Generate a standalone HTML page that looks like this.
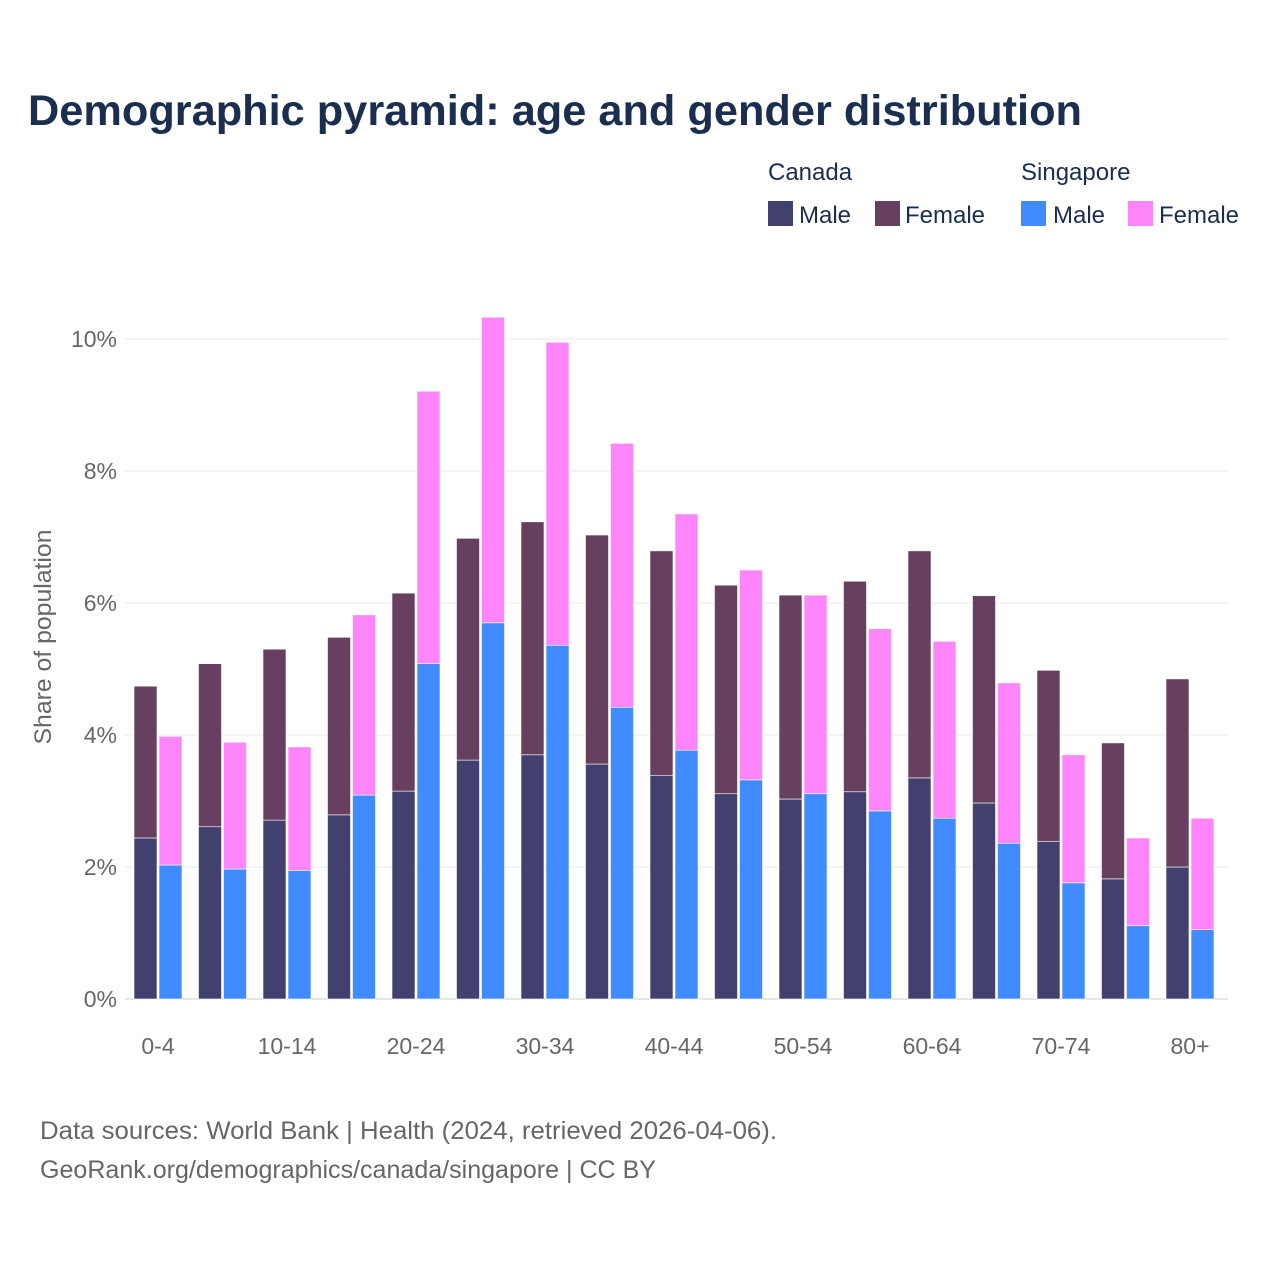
<!DOCTYPE html>
<html><head><meta charset="utf-8"><style>
body{margin:0;background:#fff;}
svg text{font-family:"Liberation Sans",sans-serif;}
</style></head><body>
<svg id="chart" width="1280" height="1280" viewBox="0 0 1280 1280">
<rect width="1280" height="1280" fill="#fff"/>
<text x="28" y="125" font-size="43" font-weight="bold" fill="#1a2e4f" textLength="1054" lengthAdjust="spacingAndGlyphs">Demographic pyramid: age and gender distribution</text>
<g font-size="24" fill="#1a2e4f">
<text x="768" y="180" fill="#1a2e4f">Canada</text>
<text x="1021" y="180" fill="#1a2e4f">Singapore</text>
<g><rect x="768" y="201" width="25" height="25" fill="#41406f"/><text x="799" y="223" fill="#1a2e4f">Male</text></g>
<g><rect x="875" y="201" width="25" height="25" fill="#673f5f"/><text x="905" y="223" fill="#1a2e4f">Female</text></g>
<g><rect x="1021" y="201" width="25" height="25" fill="#3f8bff"/><text x="1053" y="223" fill="#1a2e4f">Male</text></g>
<g><rect x="1128" y="201" width="25" height="25" fill="#ff86fa"/><text x="1159" y="223" fill="#1a2e4f">Female</text></g>
</g>
<g id="plot"></g>
<text transform="translate(51,637) rotate(-90)" text-anchor="middle" font-size="24" fill="#666" textLength="215" lengthAdjust="spacingAndGlyphs">Share of population</text>
<text x="40" y="1139" font-size="25" fill="#666" textLength="737" lengthAdjust="spacingAndGlyphs">Data sources: World Bank | Health (2024, retrieved 2026-04-06).</text>
<text x="40" y="1178" font-size="25" fill="#666" textLength="616" lengthAdjust="spacingAndGlyphs">GeoRank.org/demographics/canada/singapore | CC BY</text>
</svg>
<script>
const categories=["0-4","5-9","10-14","15-19","20-24","25-29","30-34","35-39","40-44","45-49","50-54","55-59","60-64","65-69","70-74","75-79","80+"];
const canadaMale=[2.44,2.61,2.71,2.79,3.15,3.62,3.70,3.56,3.39,3.11,3.03,3.14,3.35,2.97,2.39,1.82,2.00];
const canadaTotal=[4.74,5.08,5.30,5.48,6.15,6.98,7.23,7.03,6.79,6.27,6.12,6.33,6.79,6.11,4.98,3.88,4.85];
const singMale=[2.03,1.97,1.95,3.09,5.08,5.70,5.36,4.42,3.77,3.32,3.11,2.85,2.74,2.36,1.76,1.11,1.05];
const singTotal=[3.98,3.89,3.82,5.82,9.21,10.33,9.95,8.42,7.35,6.50,6.12,5.61,5.42,4.79,3.70,2.44,2.74];
const yTicks=[0,2,4,6,8,10];
const NS="http://www.w3.org/2000/svg";
const plot=document.getElementById('plot');
const y=v=>999-v*66;
const gx=i=>126+i*64.5;
function mk(tag,attrs){const e=document.createElementNS(NS,tag);for(const k in attrs)e.setAttribute(k,attrs[k]);plot.appendChild(e);return e;}
yTicks.forEach(t=>{
  const l=mk('line',{x1:125,x2:1228,y1:y(t),y2:y(t),stroke:t===0?'#ccc':'#e8e8e8','stroke-width':1});
  
  
  const tx=mk('text',{x:117,y:y(t)+8,'text-anchor':'end','font-size':23,fill:'#666'});
  tx.textContent=t+'%';
  
  
});
function bar(x,v0,v1,color,name){
  const r=mk('rect',{x:x,y:y(v1),width:23,height:y(v0)-y(v1),fill:color,stroke:'#fff','stroke-width':0.6});
  
  
}
categories.forEach((c,i)=>{
  const x=gx(i);
  bar(x+8,0,canadaMale[i],'#41406f','bar-canada-male-'+c);
  bar(x+8,canadaMale[i],canadaTotal[i],'#673f5f','bar-canada-female-'+c);
  bar(x+33,0,singMale[i],'#3f8bff','bar-singapore-male-'+c);
  bar(x+33,singMale[i],singTotal[i],'#ff86fa','bar-singapore-female-'+c);
  if(i%2===0){
    const t=mk('text',{x:x+32,y:1054,'text-anchor':'middle','font-size':23,fill:'#666'});
    t.textContent=c;
    
    
  }
});
</script>
</body></html>
